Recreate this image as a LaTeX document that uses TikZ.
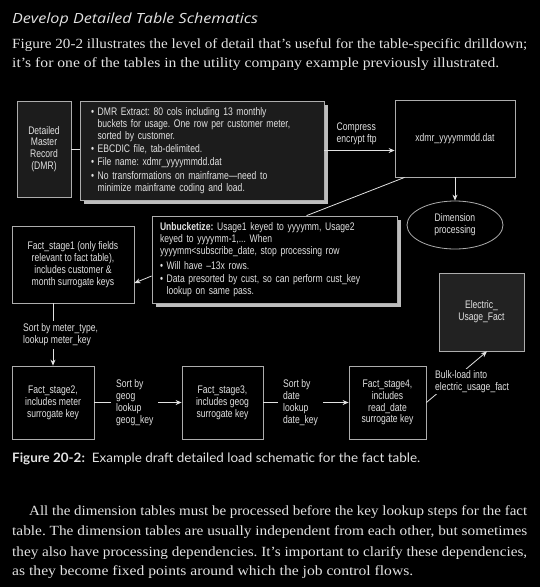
\documentclass[tikz,border=0pt]{standalone}
\usepackage{fontspec}
\usepackage{graphicx}
\usetikzlibrary{arrows.meta,shapes.geometric,shadows,calc}
\newfontfamily\cond[FakeStretch=0.78]{Liberation Sans}
\newfontfamily\titlefont{Open Sans}
\newfontfamily\serif{Liberation Serif}
\newfontfamily\capfont{Lato}
\definecolor{txt}{HTML}{E2E2E2}
\definecolor{edge}{HTML}{ADADAD}
\definecolor{dark}{HTML}{1C1C1C}
\definecolor{dark2}{HTML}{222222}
\definecolor{shade}{HTML}{BDBDBD}
\newcommand\fitw[2]{\resizebox{#1}{\height}{#2}}
\newcommand\bul{\textbullet\ }
\newcommand\nob{\hphantom{\textbullet\ }}
\frenchspacing
\begin{document}
\frenchspacing
\begin{tikzpicture}[x=1pt,y=-1pt,
  dtext/.style={font=\cond\frenchspacing\fontsize{11}{11.9}\selectfont, text=txt},
  box/.style={dtext, draw=edge, line width=0.8pt, align=center, inner sep=3pt},
  shad/.style={drop shadow={shadow xshift=4pt, shadow yshift=-4pt, fill=shade, opacity=1}},
  lbl/.style={dtext, fill=black, align=left, inner sep=1.5pt},
  arr/.style={draw=txt, line width=0.8pt, -{Stealth[length=6pt,width=5pt]}},
  ln/.style={draw=txt, line width=0.8pt},
  para/.style={anchor=base west, inner sep=0, text=txt, font=\serif\fontsize{14}{16}\selectfont},
]
\fill[black] (0,0) rectangle (540,587);
\useasboundingbox (0,0) rectangle (540,587);

% page text
\node[anchor=base west, inner sep=0, text=txt, font=\titlefont\itshape\fontsize{14}{16}\selectfont] (title) at (12,23.4) {\fitw{246pt}{Develop Detailed Table Schematics}};
\node[para] (p1) at (12,48) {\fitw{515pt}{Figure 20-2 illustrates the level of detail that’s useful for the table-specific drilldown;}};
\node[para] (p2) at (12,67) {\fitw{487pt}{it’s for one of the tables in the utility company example previously illustrated.}};

% boxes
\node[box, fill=dark, minimum width=54, minimum height=96] (dmr) at (44,149) {Detailed\\Master\\Record\\(DMR)};
\node[box, fill=dark, shad, minimum width=244, minimum height=99, text width=222pt, align=left, inner xsep=11pt] (ext) at (202,150.5) {%
\bul DMR Extract: 80 cols including 13 monthly\\
\nob buckets for usage. One row per customer meter,\\
\nob sorted by customer.\\[1.5pt]
\bul EBCDIC file, tab-delimited.\\[1.5pt]
\bul File name: xdmr\_yyyymmdd.dat\\[1.5pt]
\bul No transformations on mainframe—need to\\
\nob minimize mainframe coding and load.};
\node[box, fill=black, minimum width=120, minimum height=77] (xdmr) at (455,138.5) {xdmr\_yyyymmdd.dat};
\node[box, ellipse, fill=black, minimum width=96, minimum height=48, inner sep=0pt] (dim) at (455,225) {Dimension\\processing};
\node[box, fill=black, shad, minimum width=245, minimum height=87, text width=229pt, align=left, inner xsep=8pt] (unb) at (274.5,259.5) {%
\textbf{Unbucketize:} Usage1 keyed to yyyymm, Usage2\\
keyed to yyyymm-1,... When\\
yyyymm<subscribe\_date, stop processing row\\[3pt]
\bul Will have –13x rows.\\[1.5pt]
\bul Data presorted by cust, so can perform cust\_key\\
\nob lookup on same pass.};
\node[box, fill=black, minimum width=122, minimum height=77] (fs1) at (73,264.5) {Fact\_stage1 (only fields\\relevant to fact table),\\includes customer \&\\month surrogate keys};
\node[box, fill=black, minimum width=82, minimum height=73] (fs2) at (53,402.5) {Fact\_stage2,\\includes meter\\surrogate key};
\node[box, fill=black, minimum width=81, minimum height=73] (fs3) at (222.5,402.5) {Fact\_stage3,\\includes geog\\surrogate key};
\node[box, fill=black, minimum width=77, minimum height=73] (fs4) at (387.5,402.5) {Fact\_stage4,\\includes\\read\_date\\surrogate key};
\node[box, fill=dark2, minimum width=85, minimum height=78] (euf) at (481.5,312) {Electric\_\\Usage\_Fact};

% connectors
\draw[ln] (dmr.east) -- (dmr.east -| ext.west);
\draw[arr] (ext.east) -- (ext.east -| xdmr.west);
\draw[arr] (xdmr.south) -- (dim.north);
\draw[ln] ($(xdmr.south west)+(10,0)$) -- ($(unb.north west)+(155,0)$);
\draw[arr] ($(unb.west)+(0,16.5)$) -- ($(fs1.east)+(0,18.5)$);
\draw[arr] (fs2.north |- fs1.south) -- (fs2.north);
\draw[arr] (fs2.east) -- (fs3.west);
\draw[arr] (fs3.east) -- (fs4.west);
\draw[arr] (fs4.east) -- ($(euf.south)+(5.5,0)$);

% labels
\node[lbl, anchor=south west] (lcomp) at (335,146) {Compress\\encrypt ftp};
\node[lbl, anchor=west, inner ysep=3pt] (lsort1) at (21.5,335) {Sort by meter\_type,\\lookup meter\_key};
\node[lbl, anchor=west, inner xsep=5pt] (lsort2) at (111,402.5) {Sort by\\geog\\lookup\\geog\_key};
\node[lbl, anchor=west, inner xsep=5pt] (lsort3) at (278,402.5) {Sort by\\date\\lookup\\date\_key};
\node[lbl, anchor=north west] (lbulk) at (433.5,369) {Bulk-load into\\electric\_usage\_fact};

% caption and following text
\node[anchor=base west, inner sep=0, text=txt, font=\capfont\fontsize{13}{15}\selectfont] (cap) at (12,462) {\fitw{408pt}{{\bfseries Figure 20-2:}\ \ Example draft detailed load schematic for the fact table.}};
\node[para] (b1) at (29,515) {\fitw{498pt}{All the dimension tables must be processed before the key lookup steps for the fact}};
\node[para] (b2) at (12,535) {\fitw{515pt}{table. The dimension tables are usually independent from each other, but sometimes}};
\node[para] (b3) at (12,556) {\fitw{515pt}{they also have processing dependencies. It’s important to clarify these dependencies,}};
\node[para] (b4) at (12,575) {\fitw{401pt}{as they become fixed points around which the job control flows.}};
\end{tikzpicture}
\end{document}
